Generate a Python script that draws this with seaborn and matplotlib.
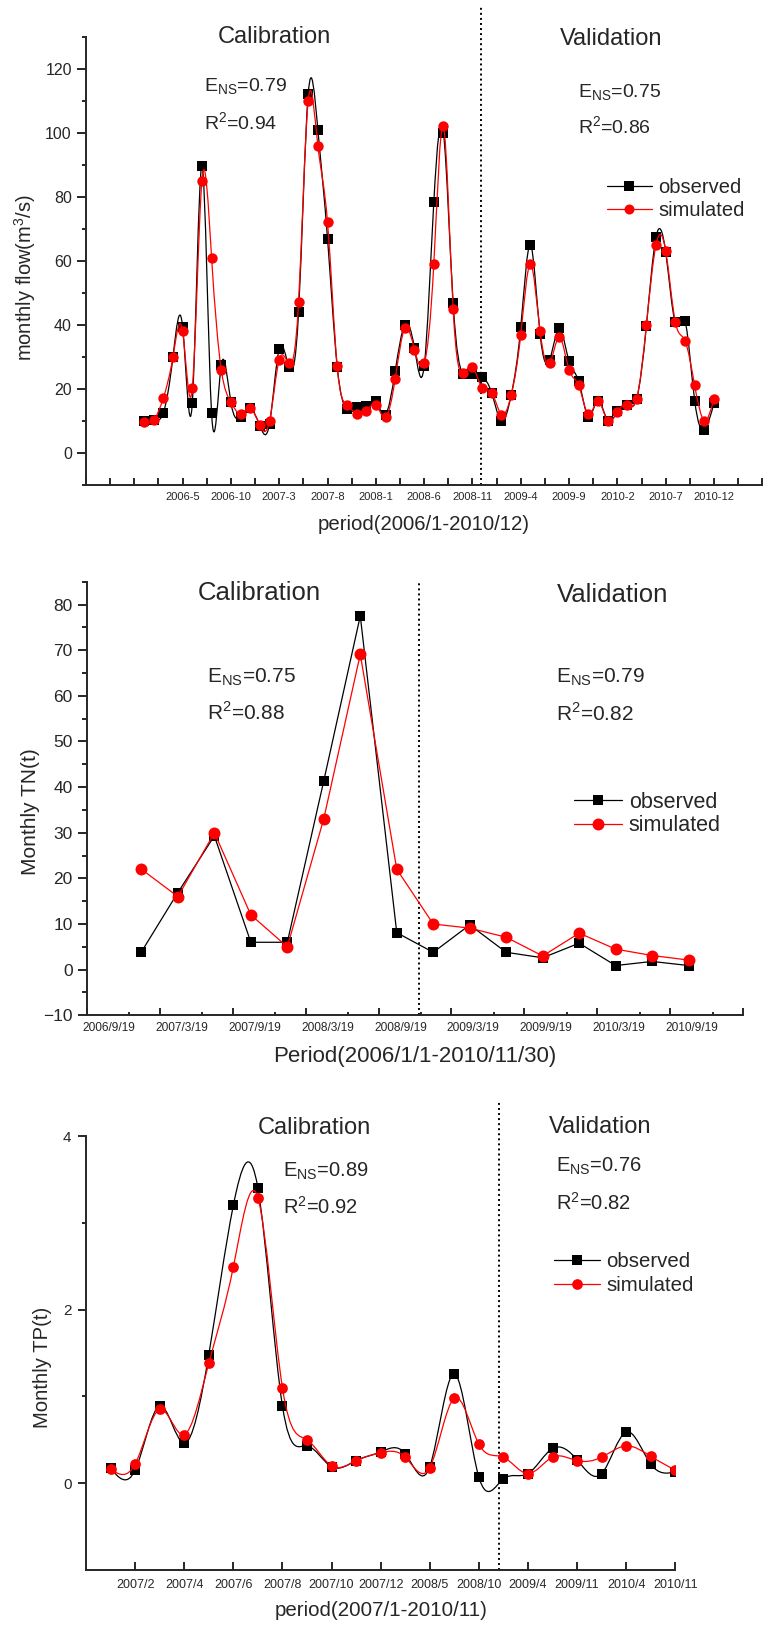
"""
plot.py
Observed vs simulated monthly flow, TN and TP (calibration / validation).
"""

import numpy as np
import matplotlib
matplotlib.use("Agg")
import matplotlib.pyplot as plt
import seaborn as sns
from matplotlib.path import Path
from matplotlib.patches import PathPatch
from matplotlib.lines import Line2D
from matplotlib.ticker import FixedLocator, MultipleLocator

# ── Data ──────────────────────────────────────────────────────────────────────
flow_month = np.arange(1, 61)          # 2006/1 .. 2010/12
flow_obs = [10.0, 10.3, 12.5, 30.0, 39.4, 15.6, 89.7, 12.4, 27.4, 15.8,
            11.4, 14.0, 8.5, 9.2, 32.6, 27.0, 44.0, 112.2, 101.0, 67.0,
            27.0, 13.7, 14.4, 14.8, 16.1, 12.0, 25.5, 40.1, 32.8, 27.1,
            78.4, 100.0, 46.9, 24.8, 24.6, 23.9, 18.7, 9.9, 18.0, 39.3,
            65.1, 37.2, 29.2, 39.0, 28.6, 22.4, 11.4, 16.4, 10.1, 13.0,
            15.0, 17.0, 39.6, 67.5, 62.8, 40.8, 41.3, 16.4, 7.3, 15.6]
flow_sim = [9.7, 10.2, 17.2, 30.0, 38.0, 20.2, 85.1, 61.0, 26.0, 15.9,
            12.1, 14.0, 8.6, 10.0, 29.2, 28.0, 47.1, 110.1, 96.0, 72.1,
            27.1, 15.0, 12.2, 13.1, 15.1, 11.1, 23.1, 39.0, 32.3, 28.0,
            59.1, 102.1, 45.1, 25.0, 26.9, 20.3, 18.9, 12.0, 18.0, 37.0,
            59.1, 38.0, 28.1, 36.2, 26.0, 21.1, 12.1, 16.1, 10.1, 12.9,
            15.0, 17.0, 39.9, 65.1, 63.2, 40.9, 35.1, 21.1, 10.1, 17.0]
flow_ticks = [5, 10, 15, 20, 25, 30, 35, 40, 45, 50, 55, 60]
flow_ticklabels = ["2006-5", "2006-10", "2007-3", "2007-8", "2008-1", "2008-6",
                   "2008-11", "2009-4", "2009-9", "2010-2", "2010-7", "2010-12"]

tn_quarter = np.arange(16)
tn_obs = [3.9, 16.9, 29.3, 6.0, 6.0, 41.4, 77.5, 8.1, 3.8, 9.8, 3.8, 2.6, 5.8, 0.9, 1.8, 0.9]
tn_sim = [22.0, 16.0, 30.0, 12.0, 5.0, 33.1, 69.1, 22.0, 10.0, 9.1, 7.1, 3.0, 8.0, 4.5, 3.1, 2.1]
tn_ticklabels = ["2006/9/19", "2007/3/19", "2007/9/19", "2008/3/19", "2008/9/19",
                 "2009/3/19", "2009/9/19", "2010/3/19", "2010/9/19"]

tp_index = np.arange(24)
tp_obs = [0.17, 0.15, 0.89, 0.46, 1.48, 3.20, 3.40, 0.89, 0.43, 0.19, 0.26, 0.36,
          0.34, 0.19, 1.26, 0.07, 0.05, 0.11, 0.40, 0.27, 0.11, 0.59, 0.22, 0.13]
tp_sim = [0.16, 0.22, 0.85, 0.56, 1.38, 2.49, 3.29, 1.10, 0.50, 0.20, 0.26, 0.35,
          0.30, 0.18, 0.98, 0.45, 0.30, 0.11, 0.30, 0.26, 0.30, 0.43, 0.31, 0.15]
tp_ticklabels = ["2007/2", "2007/4", "2007/6", "2007/8", "2007/10", "2007/12",
                 "2008/5", "2008/10", "2009/4", "2009/11", "2010/4", "2010/11"]

# ── Style ─────────────────────────────────────────────────────────────────────
sns.set_theme(style="ticks")
plt.rcParams["font.family"] = ["Liberation Sans", "DejaVu Sans"]
plt.rcParams["mathtext.fontset"] = "custom"
plt.rcParams["mathtext.rm"] = "Liberation Sans"
plt.rcParams["axes.linewidth"] = 1.4

W, H = 769, 1627
fig = plt.figure(figsize=(W / 100, H / 100), dpi=100)


def px_axes(left, top, right, bottom):
    return fig.add_axes([left / W, 1 - bottom / H, (right - left) / W, (bottom - top) / H])


def spline_path(x, y):
    # natural cubic spline drawn as bezier segments (like Origin "Spline" connect)
    x = np.asarray(x, float); y = np.asarray(y, float)
    n = len(x); h = np.diff(x)
    A = np.zeros((n, n)); r = np.zeros(n)
    A[0, 0] = A[-1, -1] = 1
    for i in range(1, n - 1):
        A[i, i - 1] = h[i - 1]; A[i, i] = 2 * (h[i - 1] + h[i]); A[i, i + 1] = h[i]
        r[i] = 6 * ((y[i + 1] - y[i]) / h[i] - (y[i] - y[i - 1]) / h[i - 1])
    M = np.linalg.solve(A, r)
    d = np.empty(n)
    d[:-1] = (y[1:] - y[:-1]) / h - h * (2 * M[:-1] + M[1:]) / 6
    d[-1] = (y[-1] - y[-2]) / h[-1] + h[-1] * (M[-2] + 2 * M[-1]) / 6
    verts = [(x[0], y[0])]; codes = [Path.MOVETO]
    for i in range(n - 1):
        verts += [(x[i] + h[i] / 3, y[i] + h[i] * d[i] / 3),
                  (x[i + 1] - h[i] / 3, y[i + 1] - h[i] * d[i + 1] / 3),
                  (x[i + 1], y[i + 1])]
        codes += [Path.CURVE4] * 3
    return Path(verts, codes)


def legend(ax, x, y, fs, sq, ci, spacing):
    hs = [Line2D([], [], color="black", lw=0.9, marker="s", ms=sq, mew=0),
          Line2D([], [], color="red", lw=0.9, marker="o", ms=ci, mew=0)]
    ax.legend(hs, ["observed", "simulated"], loc="upper left", bbox_to_anchor=(x, y),
              frameon=False, fontsize=fs, handlelength=2.25, handletextpad=0.3,
              labelspacing=spacing, borderpad=0, borderaxespad=0)


def stats(x, y1, y2, ens, r2, fs):
    fig.text(x / W, 1 - y1 / H, "E$_{\\mathregular{NS}}$=" + ens, fontsize=fs, va="center")
    fig.text(x / W, 1 - y2 / H, "R$^{\\mathregular{2}}$=" + r2, fontsize=fs, va="center")


def title(x, y, s, fs):
    fig.text(x / W, 1 - y / H, s, fontsize=fs, ha="center", va="center")


# ── Panel 1: monthly flow ─────────────────────────────────────────────────────
ax1 = px_axes(86, 37, 762.3, 485)
ax1.add_patch(PathPatch(spline_path(flow_month, flow_obs), fill=False, ec="black", lw=0.9, zorder=2))
sns.scatterplot(x=flow_month, y=flow_obs, marker="s", s=44, color="black", linewidth=0, ax=ax1, zorder=3)
ax1.add_patch(PathPatch(spline_path(flow_month, flow_sim), fill=False, ec="red", lw=0.9, zorder=4))
sns.scatterplot(x=flow_month, y=flow_sim, marker="o", s=56, color="red", linewidth=0, ax=ax1, zorder=5)
ax1.set_xlim(-5, 65)
ax1.set_ylim(-10, 130)
ticks1 = np.arange(-5, 65.1, 2.5)
ax1.xaxis.set_major_locator(FixedLocator(ticks1))
ax1.set_xticklabels([flow_ticklabels[flow_ticks.index(t)] if t in flow_ticks else "" for t in ticks1])
ax1.yaxis.set_major_locator(FixedLocator(np.arange(0, 121, 20)))
ax1.yaxis.set_minor_locator(MultipleLocator(10))
ax1.tick_params(axis="y", which="major", direction="out", length=6.2, width=1.4, labelsize=11.5, pad=4)
ax1.tick_params(axis="y", which="minor", direction="out", length=3.2, width=1.4)
ax1.tick_params(axis="x", which="major", direction="in", length=4.8, width=1.4, labelsize=8, pad=5)
ax1.axvline(35.85, 0, 1.067, color="black", ls=(0, (1, 1.6)), lw=1.4, clip_on=False)
legend(ax1, 0.770, 0.686, 14.5, 6.5, 7.2, 0.2)
title(274.5, 37, "Calibration", 17)
title(610.8, 39.3, "Validation", 17)
stats(204.3, 87, 122.3, "0.79", "0.94", 14)
stats(578.3, 92.7, 126.7, "0.75", "0.86", 14)
fig.text(25 / W, 1 - 277.5 / H, "monthly flow(m$^{\\mathregular{3}}$/s)", fontsize=14.5,
         rotation=90, ha="center", va="center")
fig.text(423.3 / W, 1 - 524 / H, "period(2006/1-2010/12)", fontsize=14.7, ha="center", va="center")

# ── Panel 2: monthly TN ───────────────────────────────────────────────────────
ax2 = px_axes(86.7, 581.7, 743.3, 1015.3)
sns.lineplot(x=tn_quarter, y=tn_obs, color="black", lw=0.9, marker="s", markersize=7.4,
             markeredgewidth=0, ax=ax2, zorder=3)
sns.lineplot(x=tn_quarter, y=tn_sim, color="red", lw=0.9, marker="o", markersize=8.6,
             markeredgewidth=0, ax=ax2, zorder=4)
ax2.set_xlim(-1.5, 16.5)
ax2.set_ylim(-10, 85)
ax2.xaxis.set_major_locator(FixedLocator(np.arange(-1.5, 16.6, 2)))
ax2.xaxis.set_minor_locator(FixedLocator(np.arange(-0.34, 16, 2)))
ax2.set_xticklabels([])
ax2.yaxis.set_major_locator(FixedLocator(np.arange(-10, 81, 10)))
ax2.yaxis.set_minor_locator(MultipleLocator(5))
ax2.tick_params(axis="y", which="major", direction="out", length=6.4, width=1.4, labelsize=12.5, pad=3.6)
ax2.tick_params(axis="y", which="minor", direction="out", length=3.4, width=1.4)
ax2.tick_params(axis="x", which="major", direction="in", length=4.8, width=1.4)
ax2.tick_params(axis="x", which="minor", direction="in", length=2.4, width=1.4)
for pos, lab in zip(np.arange(9) * 2 - 0.9, tn_ticklabels):
    ax2.text(pos, -0.030, lab, transform=ax2.get_xaxis_transform(), fontsize=8.6,
             ha="center", va="center")
ax2.axvline(7.62, 0, 1.0, color="black", ls=(0, (1, 1.6)), lw=1.4, clip_on=False)
legend(ax2, 0.742, 0.515, 15.5, 7.4, 8.6, 0.1)
title(259, 593.3, "Calibration", 18.5)
title(612.3, 595, "Validation", 18.5)
stats(207.3, 676.7, 712.3, "0.75", "0.88", 15)
stats(556, 676.7, 713.3, "0.79", "0.82", 15)
fig.text(30 / W, 1 - 811.5 / H, "Monthly TN(t)", fontsize=15, rotation=90, ha="center", va="center")
fig.text(415 / W, 1 - 1056.7 / H, "Period(2006/1/1-2010/11/30)", fontsize=16, ha="center", va="center")

# ── Panel 3: monthly TP ───────────────────────────────────────────────────────
ax3 = px_axes(86, 1136, 675.3, 1570)
ax3.add_patch(PathPatch(spline_path(tp_index, tp_obs), fill=False, ec="black", lw=0.9, zorder=2))
sns.scatterplot(x=tp_index, y=tp_obs, marker="s", s=44, color="black", linewidth=0, ax=ax3, zorder=3)
ax3.add_patch(PathPatch(spline_path(tp_index, tp_sim), fill=False, ec="red", lw=0.9, zorder=4))
sns.scatterplot(x=tp_index, y=tp_sim, marker="o", s=60, color="red", linewidth=0, ax=ax3, zorder=5)
ax3.set_xlim(-1, 23)
ax3.set_ylim(-1, 4)
ax3.xaxis.set_major_locator(FixedLocator(tp_index[1::2]))
ax3.set_xticklabels(tp_ticklabels)
ax3.yaxis.set_major_locator(FixedLocator([0, 2, 4]))
ax3.yaxis.set_minor_locator(FixedLocator([1, 3]))
ax3.tick_params(axis="y", which="major", direction="out", length=5.6, width=1.4, labelsize=11, pad=4.8)
ax3.tick_params(axis="y", which="minor", direction="out", length=3.1, width=1.4)
ax3.tick_params(axis="x", which="major", direction="in", length=5.8, width=1.4, labelsize=9, pad=6.5)
ax3.axvline(15.8, 0, 1.078, color="black", ls=(0, (1, 1.6)), lw=1.4, clip_on=False)
legend(ax3, 0.794, 0.732, 14.7, 6.5, 7.7, 0.25)
title(314, 1128.3, "Calibration", 17)
title(600.3, 1126.7, "Validation", 17)
stats(283.3, 1171.7, 1206.7, "0.89", "0.92", 14.5)
stats(556, 1166.7, 1203.3, "0.76", "0.82", 14.5)
fig.text(42 / W, 1 - 1367.5 / H, "Monthly TP(t)", fontsize=14.6, rotation=90, ha="center", va="center")
fig.text(380.8 / W, 1 - 1611 / H, "period(2007/1-2010/11)", fontsize=14.8, ha="center", va="center")

for ax in (ax1, ax2, ax3):
    ax.set_xlabel(""); ax.set_ylabel("")
    sns.despine(ax=ax)
    ax.set_facecolor("white")

fig.savefig("out.png", dpi=100, facecolor="white")
